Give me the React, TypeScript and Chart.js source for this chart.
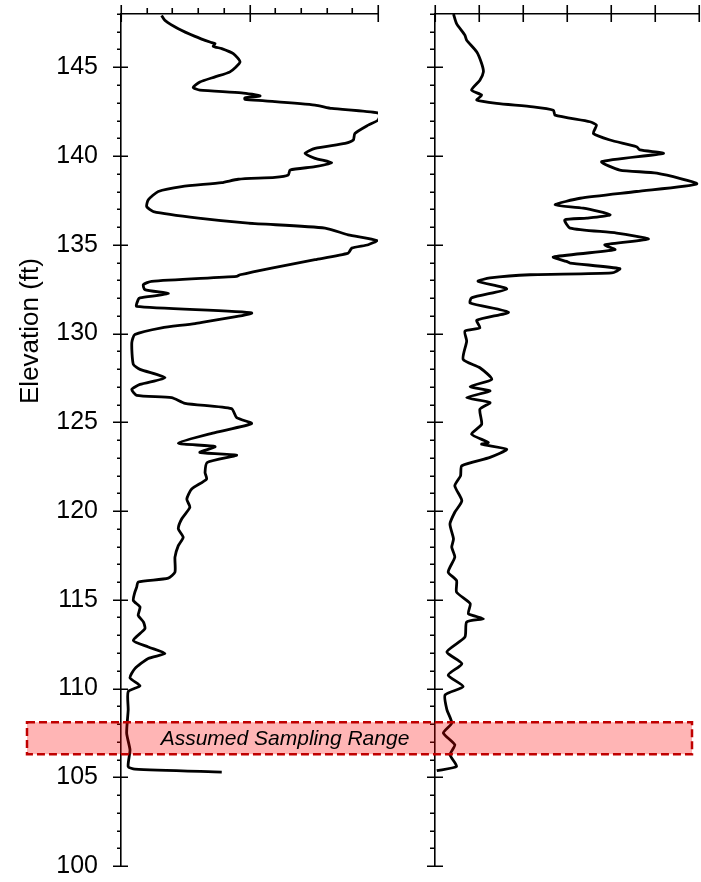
import React, { useEffect, useRef } from 'react';
import { Chart, registerables } from 'chart.js';

Chart.register(...registerables);

const FONT = '"Liberation Sans", Arial, Helvetica, sans-serif';

// ---------- data ----------
const elevationRange = [100, 148];
const leftValueRange = [0, 10];
const rightValueRange = [0, 6];
const yAxisTitle = 'Elevation (ft)';
const bandElevations = [106.3, 108.1];
const bandLabel = 'Assumed Sampling Range';

const leftValues = [
  1.58, 1.71, 2.23, 2.88, 3.46, 3.66, 3.59, 3.92, 4.37, 4.63, 4.24, 3.66, 3.07, 2.81, 3.07,
  4.69, 5.41, 4.82, 4.82, 5.6, 7.55, 8.2, 10.08, 10.0, 9.62, 9.1, 9.04, 8.72, 7.55, 7.16,
  7.55, 8.2, 7.55, 6.58, 6.51, 5.99, 4.56, 3.92, 2.36, 1.45, 1.06, 1.0, 1.26, 3.01, 4.95,
  7.94, 8.84, 9.95, 9.62, 8.98, 8.84, 7.55, 5.86, 4.63, 4.5, 1.19, 0.87, 0.93, 1.84, 0.74,
  0.67, 0.61, 5.08, 2.88, 1.58, 0.54, 0.42, 0.48, 0.74, 1.71, 0.74, 0.42, 0.61, 1.97, 2.49,
  4.3, 4.5, 5.08, 3.66, 2.23, 3.66, 3.07, 4.5, 3.36, 3.27, 3.33, 2.75, 2.56, 2.68, 2.36,
  2.23, 2.42, 2.23, 2.1, 2.1, 1.84, 0.67, 0.61, 0.54, 0.48, 0.74, 0.67, 0.87, 0.93, 0.48,
  1.06, 1.71, 1.06, 0.54, 0.35, 0.74, 0.28, 0.28, 0.22, 0.35, 0.28, 0.54, 3.92,
];
const leftElevations = [
  147.92, 147.64, 147.17, 146.74, 146.42, 146.33, 146.18, 146.05, 145.77, 145.3, 144.74, 144.46, 144.17, 143.86, 143.71,
  143.56, 143.39, 143.28, 143.19, 143.11, 142.87, 142.68, 142.4, 142.02, 141.74, 141.27, 140.9, 140.71, 140.43, 140.15,
  139.87, 139.62, 139.4, 139.21, 138.93, 138.8, 138.69, 138.5, 138.28, 138.0, 137.53, 137.15, 136.87, 136.5, 136.22,
  135.94, 135.56, 135.24, 135.0, 134.81, 134.53, 134.16, 133.69, 133.31, 133.22, 132.94, 132.75, 132.47, 132.25, 132.01,
  131.91, 131.53, 131.16, 130.56, 130.32, 129.94, 129.48, 128.26, 127.98, 127.51, 127.13, 126.85, 126.52, 126.39, 126.07,
  125.77, 125.26, 124.93, 124.42, 123.82, 123.63, 123.3, 123.15, 122.74, 122.17, 121.8, 121.24, 120.67, 120.21, 119.55,
  118.99, 118.52, 118.05, 117.4, 116.56, 116.22, 116.0, 115.71, 115.43, 114.96, 114.59, 114.12, 113.75, 113.37, 112.71,
  112.34, 111.97, 111.69, 111.12, 110.6, 110.15, 109.83, 108.8, 107.48, 106.54, 105.6, 105.46, 105.29,
];

const rightValues = [
  0.42, 0.49, 0.68, 0.72, 0.95, 1.06, 1.1, 1.02, 0.83, 1.06, 0.95, 1.4, 2.23, 2.69, 2.73,
  3.52, 3.67, 3.6, 3.98, 4.58, 4.66, 5.19, 3.79, 4.2, 5.04, 5.95, 4.58, 3.3, 2.73, 3.37,
  3.98, 3.45, 2.95, 3.07, 4.13, 4.85, 3.86, 4.09, 2.69, 2.99, 3.07, 4.2, 4.02, 2.16, 1.25,
  0.98, 1.63, 0.83, 0.8, 1.67, 0.95, 1.02, 0.68, 0.72, 0.64, 1.02, 1.29, 0.8, 1.25, 0.72,
  1.25, 1.02, 1.06, 0.83, 1.21, 1.06, 1.63, 1.25, 0.61, 0.58, 0.45, 0.61, 0.45, 0.34, 0.42,
  0.38, 0.45, 0.3, 0.49, 0.49, 0.8, 0.76, 1.1, 0.72, 0.68, 0.27, 0.61, 0.3, 0.64, 0.23,
  0.27, 0.38, 0.19, 0.45, 0.34, 0.49, 0.04,
];
const rightElevations = [
  148.0, 147.46, 146.8, 146.52, 145.86, 145.21, 144.74, 144.27, 143.71, 143.43, 143.15, 142.96, 142.77, 142.58, 142.3,
  141.93, 141.74, 141.27, 140.9, 140.52, 140.34, 140.15, 139.68, 139.21, 139.03, 138.43, 138.0, 137.62, 137.25, 137.06,
  136.69, 136.5, 136.4, 135.94, 135.66, 135.32, 135.0, 134.72, 134.31, 134.06, 133.97, 133.65, 133.41, 133.31, 133.13,
  132.94, 132.51, 132.01, 131.72, 131.2, 130.75, 130.32, 130.13, 129.57, 128.54, 128.07, 127.42, 127.01, 126.76, 126.39,
  126.11, 125.73, 124.89, 124.33, 123.86, 123.76, 123.48, 123.02, 122.55, 121.98, 121.42, 120.58, 119.93, 119.27, 118.43,
  117.96, 117.4, 116.56, 116.08, 115.43, 114.78, 114.21, 113.93, 113.75, 112.9, 112.06, 111.4, 110.75, 110.11, 109.64,
  108.81, 108.05, 107.49, 106.83, 106.27, 105.61, 105.37,
];

// ---------- helpers ----------
const W = 701;
const H = 882;

function toPoints(xs: number[], ys: number[]) {
  return xs.map((x, i) => ({ x, y: ys[i] }));
}

type TickCfg = {
  xMajorEvery: number;
  xMajorUp: number;
  xMajorDown: number;
  xMinorUp: number;
  yMajorOut: number;
  yMajorIn: number;
  yMinorOut: number;
};

function makeTickPlugin(cfg: TickCfg) {
  return {
    id: 'customTicks',
    afterDraw(chart: any) {
      const { ctx, chartArea } = chart;
      const xs = chart.scales.x;
      const ys = chart.scales.y;
      ctx.save();
      ctx.strokeStyle = '#000';
      ctx.lineWidth = 1.6;
      ctx.beginPath();
      ys.ticks.forEach((t: any) => {
        const py = Math.round(ys.getPixelForValue(t.value)) + 0.25;
        const l = chartArea.left;
        if (Math.round(t.value) % 5 === 0) {
          ctx.moveTo(l - cfg.yMajorOut, py);
          ctx.lineTo(l + cfg.yMajorIn, py);
        } else {
          ctx.moveTo(l - cfg.yMinorOut, py);
          ctx.lineTo(l, py);
        }
      });
      xs.ticks.forEach((t: any) => {
        const px = Math.round(xs.getPixelForValue(t.value)) + 0.25;
        const top = chartArea.top;
        if (Math.round(t.value) % cfg.xMajorEvery === 0) {
          ctx.moveTo(px, top - cfg.xMajorUp);
          ctx.lineTo(px, top + cfg.xMajorDown);
        } else {
          ctx.moveTo(px, top - cfg.xMinorUp);
          ctx.lineTo(px, top);
        }
      });
      ctx.stroke();
      ctx.restore();
    },
  };
}

const titlePlugin = {
  id: 'yTitle',
  afterDraw(chart: any) {
    const { ctx } = chart;
    ctx.save();
    ctx.translate(31, 331);
    ctx.rotate(-Math.PI / 2);
    ctx.font = `26px ${FONT}`;
    ctx.fillStyle = '#000';
    ctx.textAlign = 'center';
    ctx.textBaseline = 'middle';
    ctx.fillText(yAxisTitle, 0, 0);
    ctx.restore();
  },
};

const bandPlugin = {
  id: 'band',
  afterDraw(chart: any) {
    const { ctx } = chart;
    const ys = chart.scales.y;
    const top = ys.getPixelForValue(bandElevations[1]);
    const bottom = ys.getPixelForValue(bandElevations[0]);
    const left = 27;
    const right = 692;
    ctx.save();
    ctx.fillStyle = 'rgba(255, 0, 0, 0.29)';
    ctx.fillRect(left, top, right - left, bottom - top);
    ctx.setLineDash([8, 4]);
    ctx.lineWidth = 2.5;
    ctx.strokeStyle = '#C00000';
    ctx.strokeRect(left, top, right - left, bottom - top);
    ctx.setLineDash([]);
    ctx.font = `italic 21px ${FONT}`;
    ctx.fillStyle = '#000';
    ctx.textAlign = 'center';
    ctx.textBaseline = 'middle';
    ctx.fillText(bandLabel, 285, (top + bottom) / 2 + 1);
    ctx.restore();
  },
};

function baseConfig(
  points: { x: number; y: number }[],
  xRange: number[],
  padRight: number,
  yWidth: number,
  showYLabels: boolean,
  plugins: any[]
): any {
  return {
    type: 'scatter',
    data: {
      datasets: [
        {
          data: points,
          showLine: true,
          borderColor: '#000',
          backgroundColor: '#000',
          borderWidth: 2.8,
          borderJoinStyle: 'round',
          pointRadius: 0,
          pointHoverRadius: 0,
          tension: 0.2,
          fill: false,
        },
      ],
    },
    options: {
      animation: false,
      responsive: false,
      events: [],
      layout: { padding: { left: 0, right: padRight, top: 0, bottom: 16 } },
      plugins: { legend: { display: false }, tooltip: { enabled: false }, title: { display: false } },
      scales: {
        x: {
          type: 'linear',
          position: 'top',
          min: xRange[0],
          max: xRange[1],
          ticks: { display: false, stepSize: 1 },
          grid: { display: false, drawTicks: false },
          border: { display: true, color: '#000', width: 1.6 },
          afterFit: (s: any) => {
            s.height = 14;
            s.paddingLeft = 0;
            s.paddingRight = 0;
          },
        },
        y: {
          type: 'linear',
          position: 'left',
          min: elevationRange[0],
          max: elevationRange[1],
          ticks: {
            display: showYLabels,
            stepSize: 1,
            autoSkip: false,
            padding: 23,
            color: '#000',
            font: { family: FONT, size: 25 },
            callback: (v: any) => (Math.round(v) % 5 === 0 ? String(v) : ''),
          },
          grid: { display: false, drawTicks: false },
          border: { display: true, color: '#000', width: 1.6 },
          afterFit: (s: any) => {
            s.width = yWidth;
            s.paddingTop = 0;
            s.paddingBottom = 0;
          },
        },
      },
    },
    plugins,
  };
}

export default function App() {
  const leftRef = useRef<HTMLCanvasElement | null>(null);
  const rightRef = useRef<HTMLCanvasElement | null>(null);

  useEffect(() => {
    if (!leftRef.current || !rightRef.current) return;
    const left = new Chart(
      leftRef.current,
      baseConfig(
        toPoints(leftValues, leftElevations),
        leftValueRange,
        W - 378,
        121,
        true,
        [
          makeTickPlugin({ xMajorEvery: 5, xMajorUp: 9, xMajorDown: 8, xMinorUp: 6, yMajorOut: 8, yMajorIn: 7, yMinorOut: 4 }),
          titlePlugin,
        ]
      )
    );
    const right = new Chart(
      rightRef.current,
      baseConfig(
        toPoints(rightValues, rightElevations),
        rightValueRange,
        2,
        435,
        false,
        [
          makeTickPlugin({ xMajorEvery: 1, xMajorUp: 9, xMajorDown: 8, xMinorUp: 6, yMajorOut: 8, yMajorIn: 8, yMinorOut: 5 }),
          bandPlugin,
        ]
      )
    );
    return () => {
      left.destroy();
      right.destroy();
    };
  }, []);

  const canvasStyle: React.CSSProperties = { position: 'absolute', left: 0, top: 0, width: W, height: H };
  return (
    <div style={{ position: 'fixed', left: 0, top: 0, width: W, height: H, background: '#fff' }}>
      <canvas ref={leftRef} width={W} height={H} style={canvasStyle} />
      <canvas ref={rightRef} width={W} height={H} style={canvasStyle} />
    </div>
  );
}
